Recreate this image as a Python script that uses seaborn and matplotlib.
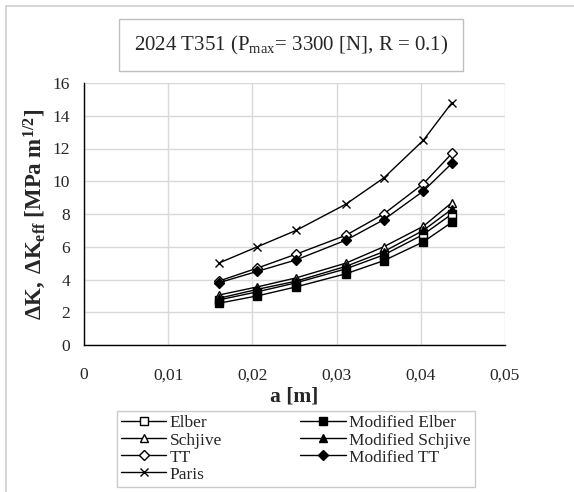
import matplotlib
matplotlib.use("Agg")
import matplotlib.pyplot as plt
from matplotlib.lines import Line2D
from matplotlib.ticker import MultipleLocator, FuncFormatter
import seaborn as sns
import pandas as pd

# Crack length a [m] and stress intensity ranges [MPa m^1/2]
crack_length = [0.0160, 0.0206, 0.0252, 0.0311, 0.0356, 0.0403, 0.0437]
elber = [2.75, 3.25, 3.80, 4.65, 5.50, 6.75, 8.00]
modified_elber = [2.55, 3.00, 3.55, 4.35, 5.15, 6.30, 7.50]
schjive = [3.05, 3.55, 4.10, 5.00, 6.00, 7.25, 8.70]
modified_schjive = [2.85, 3.40, 3.90, 4.80, 5.70, 7.00, 8.30]
tt = [3.90, 4.70, 5.55, 6.70, 8.00, 9.85, 11.70]
modified_tt = [3.80, 4.50, 5.20, 6.40, 7.65, 9.40, 11.10]
paris = [5.00, 6.00, 7.00, 8.60, 10.20, 12.50, 14.80]

x_ticks = [0, 0.01, 0.02, 0.03, 0.04, 0.05]
y_ticks = [0, 2, 4, 6, 8, 10, 12, 14, 16]

sns.set_style("white")
plt.rcParams["font.family"] = ["Liberation Serif", "DejaVu Serif"]
plt.rcParams["mathtext.fontset"] = "custom"
plt.rcParams["mathtext.rm"] = "Liberation Serif"
plt.rcParams["mathtext.it"] = "Liberation Serif:italic"
plt.rcParams["mathtext.bf"] = "Liberation Serif:bold"

series = [
    ("Elber", elber, "s", "white"),
    ("Schjive", schjive, "^", "white"),
    ("TT", tt, "D", "white"),
    ("Paris", paris, "x", "black"),
    ("Modified Elber", modified_elber, "s", "black"),
    ("Modified Schjive", modified_schjive, "^", "black"),
    ("Modified TT", modified_tt, "D", "black"),
]

fig = plt.figure(figsize=(5.74, 4.92), dpi=100)
ax = fig.add_axes([84 / 574, 1 - 345 / 492, (505 - 84) / 574, (345 - 83) / 492])

handles = []
for name, values, marker, face in series:
    df = pd.DataFrame({"a": crack_length, "dK": values})
    ms = 5.5 if marker == "D" else 6.2
    sns.lineplot(data=df, x="a", y="dK", ax=ax, color="black", linewidth=1.0,
                 marker=marker, markersize=ms, markerfacecolor=face,
                 markeredgecolor="black", markeredgewidth=1.0, legend=False)
    handles.append(Line2D([0], [0], color="black", linewidth=1.0, marker=marker,
                          markersize=ms, markerfacecolor=face,
                          markeredgecolor="black", markeredgewidth=1.0, label=name))

ax.set_xlim(0, 0.05)
ax.set_ylim(0, 16)
ax.set_xticks(x_ticks)
ax.set_yticks(y_ticks)
ax.xaxis.set_minor_locator(MultipleLocator(0.002))
ax.yaxis.set_minor_locator(MultipleLocator(0.4))
ax.xaxis.set_major_formatter(FuncFormatter(
    lambda v, p: "0" if abs(v) < 1e-12 else f"{v:.2f}".replace(".", ",")))
ax.yaxis.set_major_formatter(FuncFormatter(lambda v, p: f"{v:.0f}"))

ax.grid(True, which="major", color="#d9d9d9", linewidth=1.0)
ax.set_axisbelow(True)
for side in ("top", "right"):
    ax.spines[side].set_visible(False)
for side in ("left", "bottom"):
    ax.spines[side].set_color("black")
    ax.spines[side].set_linewidth(1.0)

ax.tick_params(axis="both", which="both", direction="in", color="black", width=0.8)
ax.tick_params(axis="both", which="major", length=4, labelsize=12.5)
ax.tick_params(axis="both", which="minor", length=4)
ax.tick_params(axis="x", which="major", pad=16)
ax.tick_params(axis="y", which="major", pad=10)

ax.set_xlabel("a [m]", fontsize=15.5, fontweight="bold", labelpad=2)
ax.set_ylabel(r"$\mathbf{\Delta K,\ \Delta K_{eff}\ [MPa\ m^{1/2}]}$", fontsize=16.5, labelpad=3)

fig.text(0.507, 1 - 45 / 492, r"2024 T351 (P$_{\mathrm{max}}$= 3300 [N], R = 0.1)",
         ha="center", va="center", fontsize=15,
         bbox=dict(boxstyle="square,pad=0.7", facecolor="white", edgecolor="#bfbfbf", linewidth=1.0))

leg = fig.legend(handles=handles, loc="upper center", bbox_to_anchor=(296 / 574, 1 - 411 / 492),
                 ncol=2, fontsize=12.5, frameon=True, fancybox=False, edgecolor="#bfbfbf",
                 handlelength=2.6, handletextpad=0.2, columnspacing=4.5, labelspacing=0.05,
                 borderpad=0.25, borderaxespad=0)
leg.get_frame().set_linewidth(1.0)

# light frame around the chart area (left and top edges)
fig.add_artist(Line2D([5.5 / 574, 5.5 / 574], [0, 1 - 5.5 / 492], color="#d0d0d0", linewidth=1.2,
                      transform=fig.transFigure))
fig.add_artist(Line2D([5.5 / 574, 1], [1 - 5.5 / 492, 1 - 5.5 / 492], color="#d0d0d0", linewidth=1.2,
                      transform=fig.transFigure))

fig.savefig("out.png", dpi=100)
